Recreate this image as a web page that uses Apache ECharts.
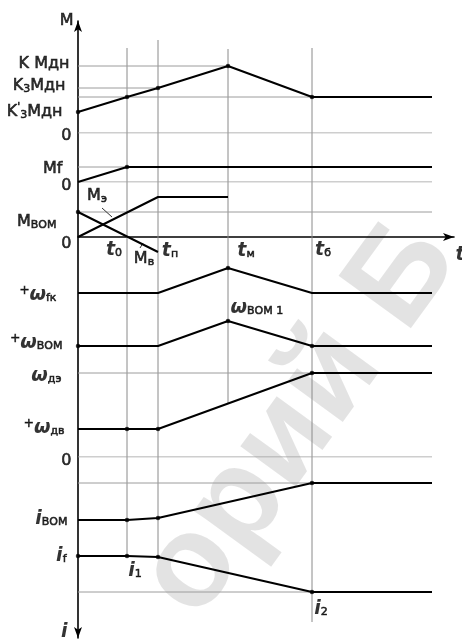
<!DOCTYPE html>
<html><head><meta charset="utf-8">
<script src="https://cdn.jsdelivr.net/npm/echarts@6/dist/echarts.min.js"></script>
<style>html,body{margin:0;padding:0;background:#fff}#c{width:462px;height:643px}</style>
</head><body><div id="c"></div>
<script>
// ---------- time marks (time units) ----------
const tMarkNames = ['t0', 'tп', 'tм', 'tб', 't'];
const tMarks = [4.9, 8.0, 15.0, 23.4, 37.6];
const tEnd = 35.4;
const tMax = 37.6;

// ---------- panel 1: M (torque) ----------
const mT = [0, 4.9, 8.0, 15.0, 23.4, 35.4];
const mV = [2.1, 3.6, 4.5, 6.7, 3.6, 3.6];
const mDots = [0, 1, 2, 3, 4];
const mGuideLevels = [6.7, 4.5, 3.6, 0];
const mGuideEnds = [15.0, 8.0, 35.4, 35.4];
const mLabelLevels = [6.7, 4.5, 2.1, 0];
const mLabelTexts = ['{b|K Мдн}', '{b|K}{s|3}{b|Мдн}', "{b|K}{q|'}{s|3}{b|Мдн}", '{z|0}'];

// ---------- panel 2: Mf ----------
const mfT = [0, 4.9, 35.4];
const mfV = [0, 1.5, 1.5];
const mfDots = [1];
const mfGuideLevels = [1.5, 0];
const mfGuideEnds = [35.4, 35.4];
const mfLabelLevels = [1.5, 0];
const mfLabelTexts = ['{b|Mf}', '{z|0}'];

// ---------- panel 3: M_BOM, Mэ, Mв ----------
const meT = [0, 8.0, 15.0];
const meV = [0, 4.0, 4.0];
const mvT = [0, 8.0];
const mvV = [2.5, -1.5];
const mvDots = [0];
const bomGuideLevels = [2.5];
const bomGuideEnds = [35.4];
const bomLabelLevels = [2.5, 0];
const bomLabelTexts = ['{b|M}{s|ВОМ}', '{z|0}'];

// ---------- panel 4: ω ----------
const wfT = [0, 8.0, 15.0, 23.4, 35.4];
const wfV = [16.4, 16.4, 18.9, 16.4, 16.4];
const wfDots = [2];
const wbT = [0, 8.0, 15.0, 23.4, 35.4];
const wbV = [11.1, 11.1, 13.6, 11.1, 11.1];
const wbDots = [0, 2, 3];
const wdT = [0, 4.9, 8.0, 23.4, 35.4];
const wdV = [2.8, 2.8, 2.8, 8.4, 8.4];
const wdDots = [1, 2, 3];
const wGuideLevels = [8.4, 0];
const wGuideEnds = [23.4, 35.4];
const wLabelLevels = [16.4, 11.1, 8.4, 2.8, 0];
const wLabelTexts = ['{p|+}{w|ω}{s|fк}', '{p|+}{w|ω}{s|ВОМ}', '{w|ω}{s|дэ}', '{p|+}{w|ω}{s|дв}', '{z|0}'];

// ---------- panel 5: i ----------
const ibT = [0, 4.9, 8.0, 23.4, 35.4];
const ibV = [6.3, 6.3, 6.1, 2.6, 2.6];
const ibDots = [1, 2, 3];
const ifT = [0, 4.9, 8.0, 23.4, 35.4];
const ifV = [9.9, 9.9, 10.0, 13.5, 13.5];
const ifDots = [0, 1, 2, 3];
const iGuideLevels = [2.6, 13.5];
const iGuideEnds = [35.4, 35.4];
const iLabelLevels = [6.3, 9.9];
const iLabelTexts = ['{w|i}{s|ВОМ}', '{w|i}{s|f}'];

// ---------- vertical time markers (sheet units, from top) ----------
const vT = [4.9, 8.0, 15.0, 23.4];
const vTop = [4.8, 4.0, 4.9, 4.8];
const vBottom = [55.6, 55.7, 40.3, 62.2];

// ---------- styles ----------
const F = 'DejaVu Sans';
const INK = '#000';
const GUIDE = '#9c9c9c';
const VLINE = '#8a8a8a';
const th = {textBorderColor: INK, textBorderWidth: 0.6};
const rich = {
  b: Object.assign({fontFamily: F, fontSize: 16, color: INK, lineHeight: 20}, th),
  z: Object.assign({fontFamily: F, fontSize: 16, color: INK, lineHeight: 20}, th),
  s: Object.assign({fontFamily: F, fontSize: 11, color: INK, verticalAlign: 'bottom', padding: [0, 0, 1, 0]}, th),
  q: Object.assign({fontFamily: F, fontSize: 11, color: INK, verticalAlign: 'top'}, th),
  w: {fontFamily: F, fontSize: 19, fontWeight: 'bold', fontStyle: 'italic', color: INK, lineHeight: 20},
  p: Object.assign({fontFamily: F, fontSize: 12, color: INK, verticalAlign: 'top'}, th)
};

const grids = [
  {left: 78, right: 8, top: 23, height: 110},
  {left: 78, right: 8, top: 133, height: 49},
  {left: 78, right: 8, top: 182, height: 85},
  {left: 78, right: 8, top: 257, height: 200},
  {left: 78, right: 8, top: 457, height: 186},
  {left: 78, right: 8, top: 21, height: 617}
];
const yMin = [0, 0, -3, 0, 0, 2.1];
const yMax = [11, 4.9, 5.5, 20, 18.6, 63.8];
const yInv = [false, false, false, false, true, true];

const xAxes = grids.map((g, i) => ({
  type: 'value', gridIndex: i, min: 0, max: tMax,
  show: i === 2,
  axisLine: {show: i === 2, onZero: true, symbol: ['none', 'arrow'], symbolSize: [6, 11],
    lineStyle: {color: INK, width: 1.6}},
  axisTick: {show: false}, axisLabel: {show: false}, splitLine: {show: false}
}));
const yAxes = grids.map((g, i) => ({
  type: 'value', gridIndex: i, min: yMin[i], max: yMax[i], inverse: yInv[i],
  show: i === 5,
  axisLine: {show: i === 5, onZero: false, symbol: ['arrow', 'arrow'], symbolSize: [6, 11],
    lineStyle: {color: INK, width: 1.6}},
  axisTick: {show: false}, axisLabel: {show: false}, splitLine: {show: false}
}));

const series = [];
function curve(gi, T, V, dots) {
  series.push({type: 'line', xAxisIndex: gi, yAxisIndex: gi, data: T.map((t, k) => [t, V[k]]),
    symbol: 'none', lineStyle: {color: INK, width: 2}, z: 4, silent: true, animation: false});
  if (dots && dots.length) series.push({type: 'scatter', xAxisIndex: gi, yAxisIndex: gi,
    data: dots.map(k => [T[k], V[k]]), symbolSize: 4.5, itemStyle: {color: INK}, z: 5, silent: true, animation: false});
}
function guides(gi, levels, ends) {
  levels.forEach((v, k) => series.push({type: 'line', xAxisIndex: gi, yAxisIndex: gi,
    data: [[0, v], [ends[k], v]], symbol: 'none', lineStyle: {color: GUIDE, width: 1}, z: 2, silent: true, animation: false}));
}
function labels(gi, pts, texts, opts) {
  series.push({type: 'scatter', xAxisIndex: gi, yAxisIndex: gi, symbolSize: 1, itemStyle: {color: 'rgba(0,0,0,0)'},
    clip: false, silent: true, animation: false, z: 6,
    data: pts.map((p, k) => ({value: p, label: opts[k]})),
    label: {show: true, color: INK, formatter: p => texts[p.dataIndex], rich: rich}});
}

// frame: vertical markers
vT.forEach((t, k) => series.push({type: 'line', xAxisIndex: 5, yAxisIndex: 5,
  data: [[t, vTop[k]], [t, vBottom[k]]], symbol: 'none', lineStyle: {color: VLINE, width: 1}, z: 1, silent: true, animation: false}));

guides(0, mGuideLevels, mGuideEnds);
guides(1, mfGuideLevels, mfGuideEnds);
guides(2, bomGuideLevels, bomGuideEnds);
guides(3, wGuideLevels, wGuideEnds);
guides(4, iGuideLevels, iGuideEnds);

curve(0, mT, mV, mDots);
curve(1, mfT, mfV, mfDots);
curve(2, meT, meV, []);
curve(2, mvT, mvV, mvDots);
curve(3, wfT, wfV, wfDots);
curve(3, wbT, wbV, wbDots);
curve(3, wdT, wdV, wdDots);
curve(4, ibT, ibV, ibDots);
curve(4, ifT, ifV, ifDots);

// leader lines for Mэ / Mв
series.push({type: 'line', xAxisIndex: 2, yAxisIndex: 2, data: [[2.4, 2.9], [3.4, 2.0]], symbol: 'none',
  lineStyle: {color: '#333', width: 1}, z: 3, silent: true, animation: false});
series.push({type: 'line', xAxisIndex: 2, yAxisIndex: 2, data: [[6.2, -1.1], [6.5, -0.6]], symbol: 'none',
  lineStyle: {color: '#333', width: 1}, z: 3, silent: true, animation: false});

// left level labels
const L = (dx, dy) => ({position: 'left', distance: 0, offset: [dx, dy]});
labels(0, mLabelLevels.map(v => [0, v]), mLabelTexts, [L(-8, -2), L(-12, -2), L(-15, 0), L(-6, 3)]);
labels(1, mfLabelLevels.map(v => [0, v]), mfLabelTexts, [L(-15, 2), L(-6, 4)]);
labels(2, bomLabelLevels.map(v => [0, v]), bomLabelTexts, [L(-21, 10), L(-6, 7)]);
labels(3, wLabelLevels.map(v => [0, v]), wLabelTexts, [L(-21, 2), L(-15, -3), L(-16, 3), L(-13, -1), L(-6, 4)]);
labels(4, iLabelLevels.map(v => [0, v]), iLabelTexts, [L(-10, -1), L(-11, 0)]);

// axis names
labels(5, [[0, 2.1], [0, 63.2]], ['{b|M}', '{w|i}'], [L(-4, 0), L(-10, 0)]);

// time labels on t axis
const I = (dx, dy) => ({position: 'inside', offset: [dx, dy]});
labels(2, tMarks.map(t => [t, 0]), ['{w|t}{s|0}', '{w|t}{s|п}', '{w|t}{s|м}', '{w|t}{s|б}', '{w|t}'],
  [I(-13, 13), I(12, 14), I(18, 14), I(11, 13), I(6, 18)]);

// curve annotations
labels(2, [[1.9, 4.1], [6.6, -2.2]], ['{b|M}{s|э}', '{b|M}{s|в}'], [I(0, 0), I(0, 0)]);
labels(3, [[15.0, 14.9]], ['{w|ω}{s|ВОМ 1}'], [{position: 'right', distance: 2}]);
labels(4, [[4.9, 9.9], [23.4, 13.5]], ['{w|i}{s|1}', '{w|i}{s|2}'], [I(8, 15), I(9, 17)]);

const chart = echarts.init(document.getElementById('c'));
chart.setOption({
  animation: false,
  backgroundColor: '#fff',
  grid: grids,
  xAxis: xAxes,
  yAxis: yAxes,
  series: series,
  graphic: [{
    type: 'text', x: 300, y: 420, rotation: 54 * Math.PI / 180, z: -10, silent: true,
    style: {text: 'орий Б', fontFamily: 'Liberation Sans', fontWeight: 'bold', fontSize: 130,
      fill: 'rgba(0,0,0,0.11)', align: 'center', verticalAlign: 'middle'}
  }]
});
</script>
</body></html>
